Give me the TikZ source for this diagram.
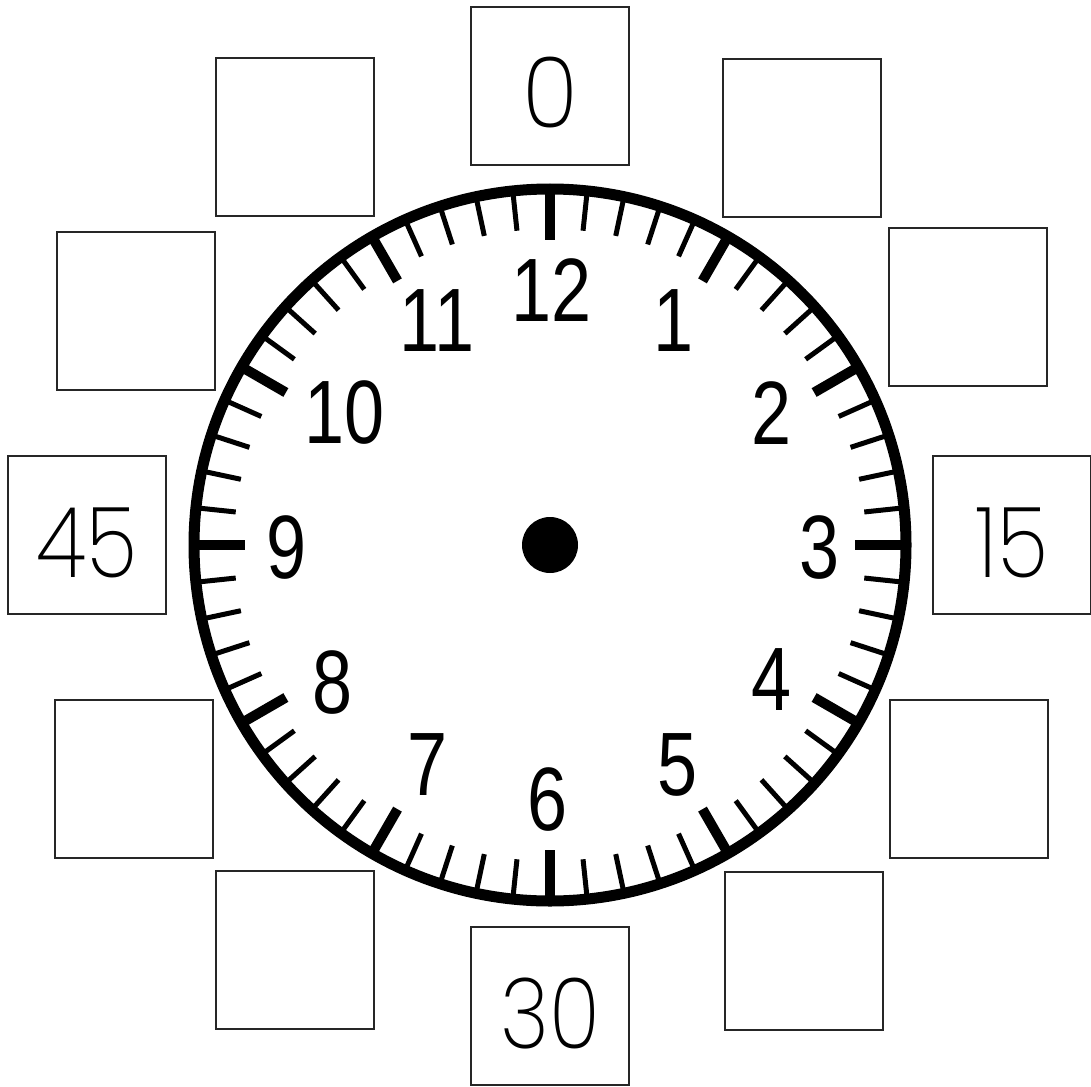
\documentclass[tikz,border=0pt]{standalone}
\usepackage{fontspec}
\setmainfont{Liberation Sans}
\newfontfamily\thinfont{Poppins ExtraLight}
\usetikzlibrary{calc}
\begin{document}
\begin{tikzpicture}[x=1pt,y=-1pt,
  ansbox/.style={draw=black!85,line width=1.3pt,minimum size=158pt,inner sep=0pt},
  boxnum/.style={inner sep=0pt,text height=84pt,text depth=0pt,xscale=0.86,transform shape,
    font=\thinfont\fontsize{98}{98}\selectfont},
  hournum/.style={inner sep=0pt,font=\fontsize{90}{90}\selectfont,xscale=0.8,transform shape},
  minutetick/.style={line width=5pt},
  hourtick/.style={line width=10pt},
  ring/.style={line width=11pt}]
\useasboundingbox (0,0) rectangle (1091,1086);
\coordinate (c) at (550,545);
% boxes
\node[ansbox] (b0) at (550,86) {};
\node[ansbox] (b5) at (802,138) {};
\node[ansbox] (b10) at (968,307) {};
\node[ansbox] (b15) at (1012,535) {};
\node[ansbox] (b20) at (969,779) {};
\node[ansbox] (b25) at (804,951) {};
\node[ansbox] (b30) at (550,1006) {};
\node[ansbox] (b35) at (295,950) {};
\node[ansbox] (b40) at (134,779) {};
\node[ansbox] (b45) at (87,535) {};
\node[ansbox] (b50) at (136,311) {};
\node[ansbox] (b55) at (295,137) {};
\node[boxnum,xscale=1.1] (t0) at (b0.center) {0};
\node[boxnum] (t15) at (b15.center) {15};
\node[boxnum] (t30) at (b30.center) {30};
\node[boxnum] (t45) at (b45.center) {45};
% clock ring
\draw[ring] (c) circle[radius=356];
\foreach \i in {0,...,59}{
  \pgfmathtruncatemacro{\m}{mod(\i,5)}
  \ifnum\m=0
    \draw[hourtick] ($(c)+(6*\i-90:352)$) -- ($(c)+(6*\i-90:305)$);
  \else
    \draw[minutetick] ($(c)+(6*\i-90:352)$) -- ($(c)+(6*\i-90:316)$);
  \fi
}
\fill (c) circle[radius=28];
% hour numbers
\node[hournum] (h12) at (552,290) {12};
\node[hournum] (h1) at (674,321) {1};
\node[hournum] (h2) at (772,413) {2};
\node[hournum] (h3) at (820,548) {3};
\node[hournum] (h4) at (772,680) {4};
\node[hournum] (h5) at (678,765) {5};
\node[hournum] (h6) at (548,800) {6};
\node[hournum] (h7) at (428,765) {7};
\node[hournum] (h8) at (333,683) {8};
\node[hournum] (h9) at (287,548) {9};
\node[hournum] (h10) at (345,413) {10};
\node[hournum] (h11) at (437,321) {11};
\end{tikzpicture}
\end{document}
